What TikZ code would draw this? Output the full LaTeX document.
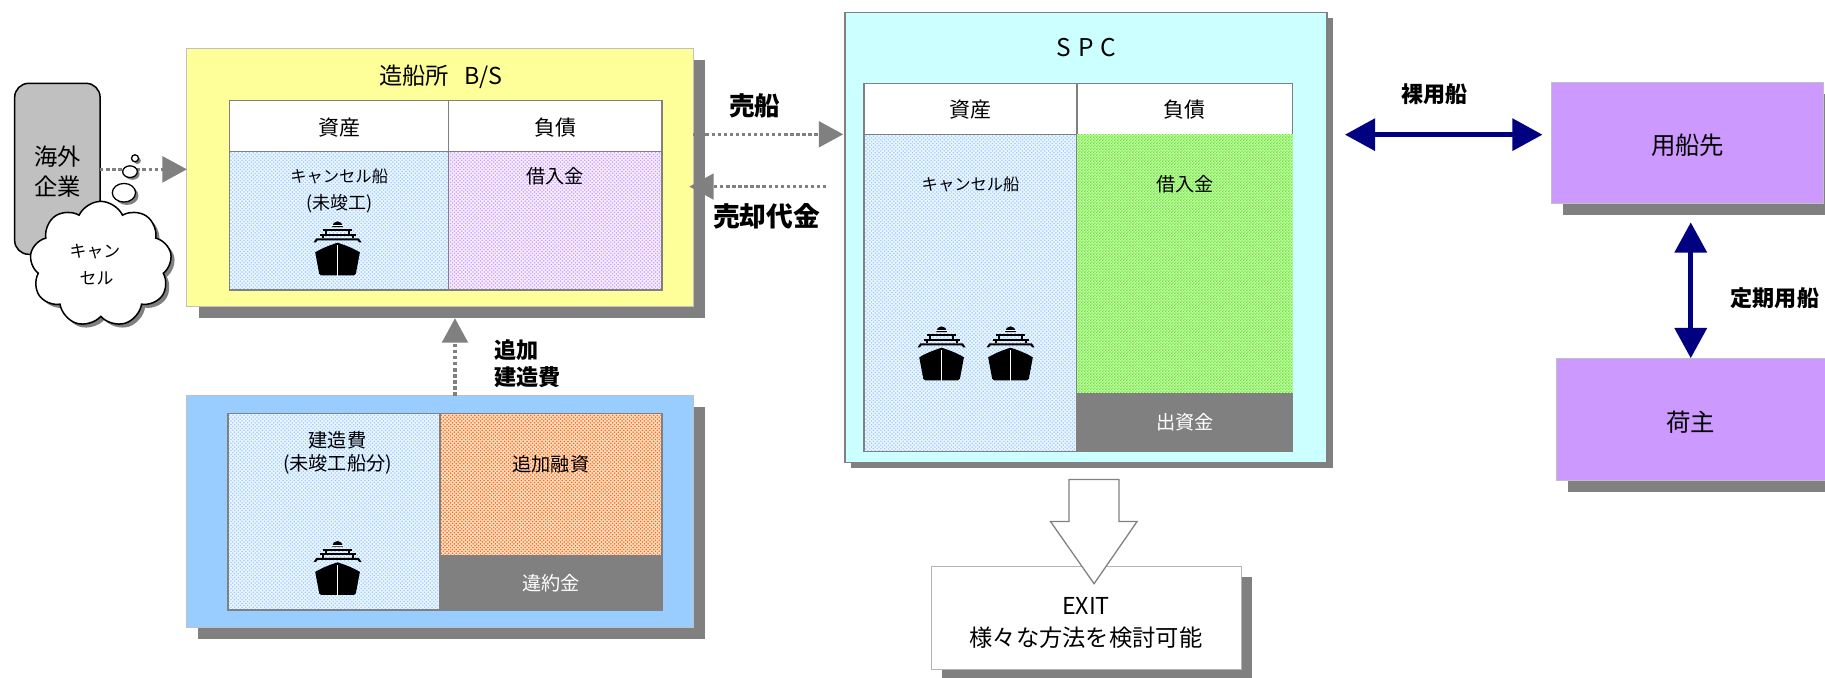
\documentclass[tikz,border=0pt]{standalone}
\usepackage{fontspec}
\setmainfont{Noto Sans CJK JP}
\usetikzlibrary{arrows.meta,shapes.symbols,patterns,fit,shadows,calc}

\definecolor{shgray}{HTML}{808080}
\definecolor{ygold}{HTML}{FFFF99}
\definecolor{cyanbg}{HTML}{CCFFFF}
\definecolor{bluebg}{HTML}{99CCFF}
\definecolor{purp}{HTML}{CC99FF}
\definecolor{navy}{HTML}{000080}
\definecolor{lgray}{HTML}{C0C0C0}
\definecolor{edgegray}{HTML}{B4B4B4}
\definecolor{bluebase}{HTML}{EEF6FF}
\definecolor{bluedot}{HTML}{99CCFF}
\definecolor{purpbase}{HTML}{F7F0FF}
\definecolor{purpdot}{HTML}{CC99FF}
\definecolor{orgbase}{HTML}{FFE0CC}
\definecolor{orgdot}{HTML}{FF6600}
\definecolor{grnbase}{HTML}{CCFFB3}
\definecolor{grndot}{HTML}{66E633}

\pgfdeclarepatternformonly{mydots}{\pgfqpoint{-1pt}{-1pt}}{\pgfqpoint{4pt}{4pt}}{\pgfqpoint{3.2pt}{3.2pt}}{%
  \pgfpathcircle{\pgfqpoint{0pt}{0pt}}{0.75pt}%
  \pgfpathcircle{\pgfqpoint{1.6pt}{1.6pt}}{0.75pt}%
  \pgfusepath{fill}}
\pgfdeclarepatternformonly{mychecks}{\pgfqpoint{0pt}{0pt}}{\pgfqpoint{2.4pt}{2.4pt}}{\pgfqpoint{2.4pt}{2.4pt}}{%
  \pgfpathrectangle{\pgfqpoint{0pt}{0pt}}{\pgfqpoint{1.2pt}{1.2pt}}%
  \pgfpathrectangle{\pgfqpoint{1.2pt}{1.2pt}}{\pgfqpoint{1.2pt}{1.2pt}}%
  \pgfusepath{fill}}

\tikzset{
  bx/.style={inner sep=0pt, outer sep=0pt},
  lbl/.style={inner sep=0pt, font=\fontsize{#1}{#1}\selectfont},
  lblb/.style={inner sep=0pt, font=\fontsize{#1}{#1}\selectfont\bfseries},
  shd/.style={drop shadow={shadow xshift=#1, shadow yshift=-#1, opacity=1, fill=shgray}},
  cellline/.style={draw=shgray, line width=1.3pt},
  bluecell/.style={preaction={fill=bluebase}, pattern=mydots, pattern color=bluedot},
  purpcell/.style={preaction={fill=purpbase}, pattern=mydots, pattern color=purpdot},
  orgcell/.style={preaction={fill=orgbase}, pattern=mydots, pattern color=orgdot},
  grncell/.style={preaction={fill=grnbase}, pattern=mychecks, pattern color=grndot},
  graycell/.style={fill=shgray},
  dotarrow/.style={draw=shgray, line width=2.9pt, dash pattern=on 2.9pt off 2.3pt, -{Triangle[length=21pt,width=22pt,fill=shgray]}},
  navyarrow/.style={draw=navy, line width=4.6pt, {Triangle[length=26pt,width=27pt]}-{Triangle[length=26pt,width=27pt]}},
  ship/.pic={
    \begin{scope}[scale=0.2864]
      % dome
      \fill[black] (-16,-64) -- (-16,-65) arc[start angle=180, end angle=360, radius=16] -- (16,-64) -- cycle;
      \fill[white] (-16,-70) rectangle (16,-68);
      % upper bar and posts
      \fill[black] (-44,-58) rectangle (44,-52);
      \fill[black] (-38,-52) rectangle (-32,-44);
      \fill[black] (32,-52) rectangle (38,-44);
      \fill[black] (-54,-44) rectangle (54,-38);
      \fill[black] (-48,-38) rectangle (-42,-30);
      \fill[black] (42,-38) rectangle (48,-30);
      % deck rail with angled ends
      \fill[black] (-72,-18) -- (-64,-30) -- (64,-30) -- (72,-18) -- (65,-18) -- (60,-24) -- (-60,-24) -- (-65,-18) -- cycle;
      % hull
      \fill[black] (-67,12) .. controls (-45,-2) and (-18,-11) .. (0,-17) .. controls (18,-11) and (45,-2) .. (67,12)
        -- (55,76) .. controls (54,80) .. (49,81) -- (-49,81) .. controls (-54,80) .. (-55,76) -- cycle;
      \fill[white] (-2.2,-10) rectangle (2.2,82);
    \end{scope}
  }
}

\begin{document}
\begin{tikzpicture}[x=1pt, y=-1pt]
\useasboundingbox (0,0) rectangle (1568,582.5);

% ---------- overseas company ----------
\node[bx, fit={(12.6,71.6)(86,218.5)}, rounded corners=12pt, fill=lgray, draw=black, line width=1.3pt] (co) {};
\node[lbl=20] (co1) at (49.3,134.6) {海外};
\node[lbl=20] (co2) at (49.3,160.4) {企業};

% ---------- shipyard B/S ----------
\node[bx, fit={(160.6,41.6)(595.7,263.2)}, fill=ygold, draw=lgray, line width=0.8pt, shd=10pt] (yb) {};
\node[lbl=20] (ybt) at (378.7,65.9) {造船所\hspace{13pt}B/S};
\node[bx, fit={(197.3,86.5)(385.4,130.3)}, fill=white, cellline] (yh1) {};
\node[bx, fit={(385.4,86.5)(568.9,130.3)}, fill=white, cellline] (yh2) {};
\node[bx, fit={(197.3,130.3)(385.4,249.2)}, bluecell, cellline] (ya1) {};
\node[bx, fit={(385.4,130.3)(568.9,249.2)}, purpcell, cellline] (ya2) {};
\node[lbl=18] (yh1t) at (291.4,109.4) {資産};
\node[lbl=18] (yh2t) at (477.1,109.4) {負債};
\node[lbl=14] (ya1t) at (291.4,151.8) {キャンセル船};
\node[lbl=15.5] (ya1u) at (291.4,174.7) {(未竣工)};
\node[lbl=16.5] (ya2t) at (477.1,151.8) {借入金};
\pic at (290,213.4) {ship};

% ---------- dotted arrow from company ----------
\coordinate (ya) at (0,145.5);
\draw[dotarrow] (co.east |- ya) -- (yb.west |- ya);

% ---------- thought bubbles and cloud ----------
\draw[fill=white, line width=1.1pt, shd=2pt] (116,136) circle[radius=3];
\draw[fill=white, line width=1.1pt, shd=2pt] (111.7,147.5) ellipse[x radius=6.3, y radius=5];
\draw[fill=white, line width=1.1pt, shd=2.5pt] (106.5,165.6) ellipse[x radius=10, y radius=8];
\node[cloud, cloud puffs=9, cloud puff arc=130, aspect=1.1, draw=black, fill=white, line width=1.3pt, minimum width=122pt, minimum height=108pt, inner sep=0pt, shd=3pt] (cl) at (86.6,227) {};
\node[lbl=14.5] (cl1) at (81.6,216.2) {キャン};
\node[lbl=14.5] (cl2) at (83,239.2) {セル};

% ---------- construction cost box ----------
\node[bx, fit={(160.5,340)(596,539)}, fill=bluebg, draw=lgray, line width=0.8pt, shd=10pt] (bb) {};
\node[bx, fit={(196,355.4)(378,524.3)}, bluecell, cellline] (bc1) {};
\node[bx, fit={(378,355.4)(568.7,477.5)}, orgcell, cellline] (bc2) {};
\node[bx, fit={(378,477.5)(568.7,524.3)}, graycell, cellline] (bc3) {};
\node[lbl=16.5] (bc1t) at (290,378.4) {建造費};
\node[lbl=16.5] (bc1u) at (290,399) {(未竣工船分)};
\node[lbl=16.5] (bc2t) at (473.3,399) {追加融資};
\node[lbl=16.5, text=white] (bc3t) at (473.3,500.9) {違約金};
\pic at (290,488) {ship};

% up arrow
\coordinate (upx) at (390.9,0);
\draw[dotarrow, shorten >=10.2pt] (bb.north -| upx) -- (yb.south -| upx);
\node[lblb=19, anchor=west] (add1) at (424.4,301.2) {追加};
\node[lblb=19, anchor=west] (add2) at (424.4,324.1) {建造費};

% ---------- SPC ----------
\node[bx, fit={(725.9,10.6)(1140.3,397.5)}, fill=cyanbg, draw=shgray, line width=1.3pt, shd=5pt] (spc) {};
\node[lbl=21] (spct) at (933.5,41) {S\hspace{6pt}P\hspace{6pt}C};
\node[bx, fit={(742.2,71.6)(925.5,115.4)}, fill=white, cellline] (sh1) {};
\node[bx, fit={(925.5,71.6)(1110.5,115.4)}, fill=white, cellline] (sh2) {};
\node[bx, fit={(742.2,115.4)(925.5,388)}, bluecell, cellline] (sa1) {};
\node[bx, fit={(925.5,115.4)(1110.5,338)}, grncell, draw=none] (sa2) {};
\node[bx, fit={(925.5,338)(1110.5,388)}, graycell, draw=none] (sa3) {};
\node[lbl=18] (sh1t) at (833.9,94.5) {資産};
\node[lbl=18] (sh2t) at (1018,94.5) {負債};
\node[lbl=14] (sa1t) at (833.9,158.4) {キャンセル船};
\node[lbl=16.5] (sa2t) at (1018,158.4) {借入金};
\node[lbl=16.5, text=white] (sa3t) at (1018,363) {出資金};
\pic at (809,303.6) {ship};
\pic at (868.2,303.6) {ship};

% ---------- sale arrows ----------
\coordinate (r1) at (0,115.4);
\coordinate (r2) at (0,160.3);
\draw[dotarrow, shorten >=1.4pt] (yb.east |- r1) -- (spc.west |- r1);
\draw[dotarrow, shorten <=15.9pt, shorten >=-3.5pt] (spc.west |- r2) -- (yb.east |- r2);
\node[lblb=22] (sell) at (648.6,91) {売船};
\node[lblb=23] (proc) at (658.6,186) {売却代金};

% ---------- charterers ----------
\node[bx, fit={(1333,71)(1567,175)}, fill=purp, draw=lgray, line width=0.8pt, shd=10pt] (chr) {};
\node[lbl=21] (chrt) at (1450,124.5) {用船先};
\node[bx, fit={(1337.3,308.4)(1568,412.4)}, fill=purp, draw=lgray, line width=0.8pt, shd=10pt] (shp) {};
\node[lbl=21] (shpt) at (1452.6,363) {荷主};

\coordinate (bbl) at (0,115.7);
\draw[navyarrow, shorten <=15.2pt, shorten >=7.7pt] (spc.east |- bbl) -- (chr.west |- bbl);
\draw[navyarrow, shorten <=16pt, shorten >=0.6pt] (chr.south -| shp.north) -- (shp.north);
\node[lblb=19] (bare) at (1232.8,81) {裸用船};
\node[lblb=19] (tc) at (1525,256.3) {定期用船};

% ---------- EXIT ----------
\node[bx, fit={(800,486.6)(1066.5,575)}, fill=white, draw=edgegray, line width=1pt, shd=9pt] (ex) {};
\node[lbl=20] (ex1) at (933,521) {EXIT};
\node[lbl=20] (ex2) at (933,548.2) {様々な方法を検討可能};
\draw[draw=shgray, fill=white, line width=1.1pt] (918.5,412) -- (961.5,412) -- (961.5,448) -- (977,448) -- (940,501.5) -- (902.5,448) -- (918.5,448) -- cycle;
\end{tikzpicture}
\end{document}
